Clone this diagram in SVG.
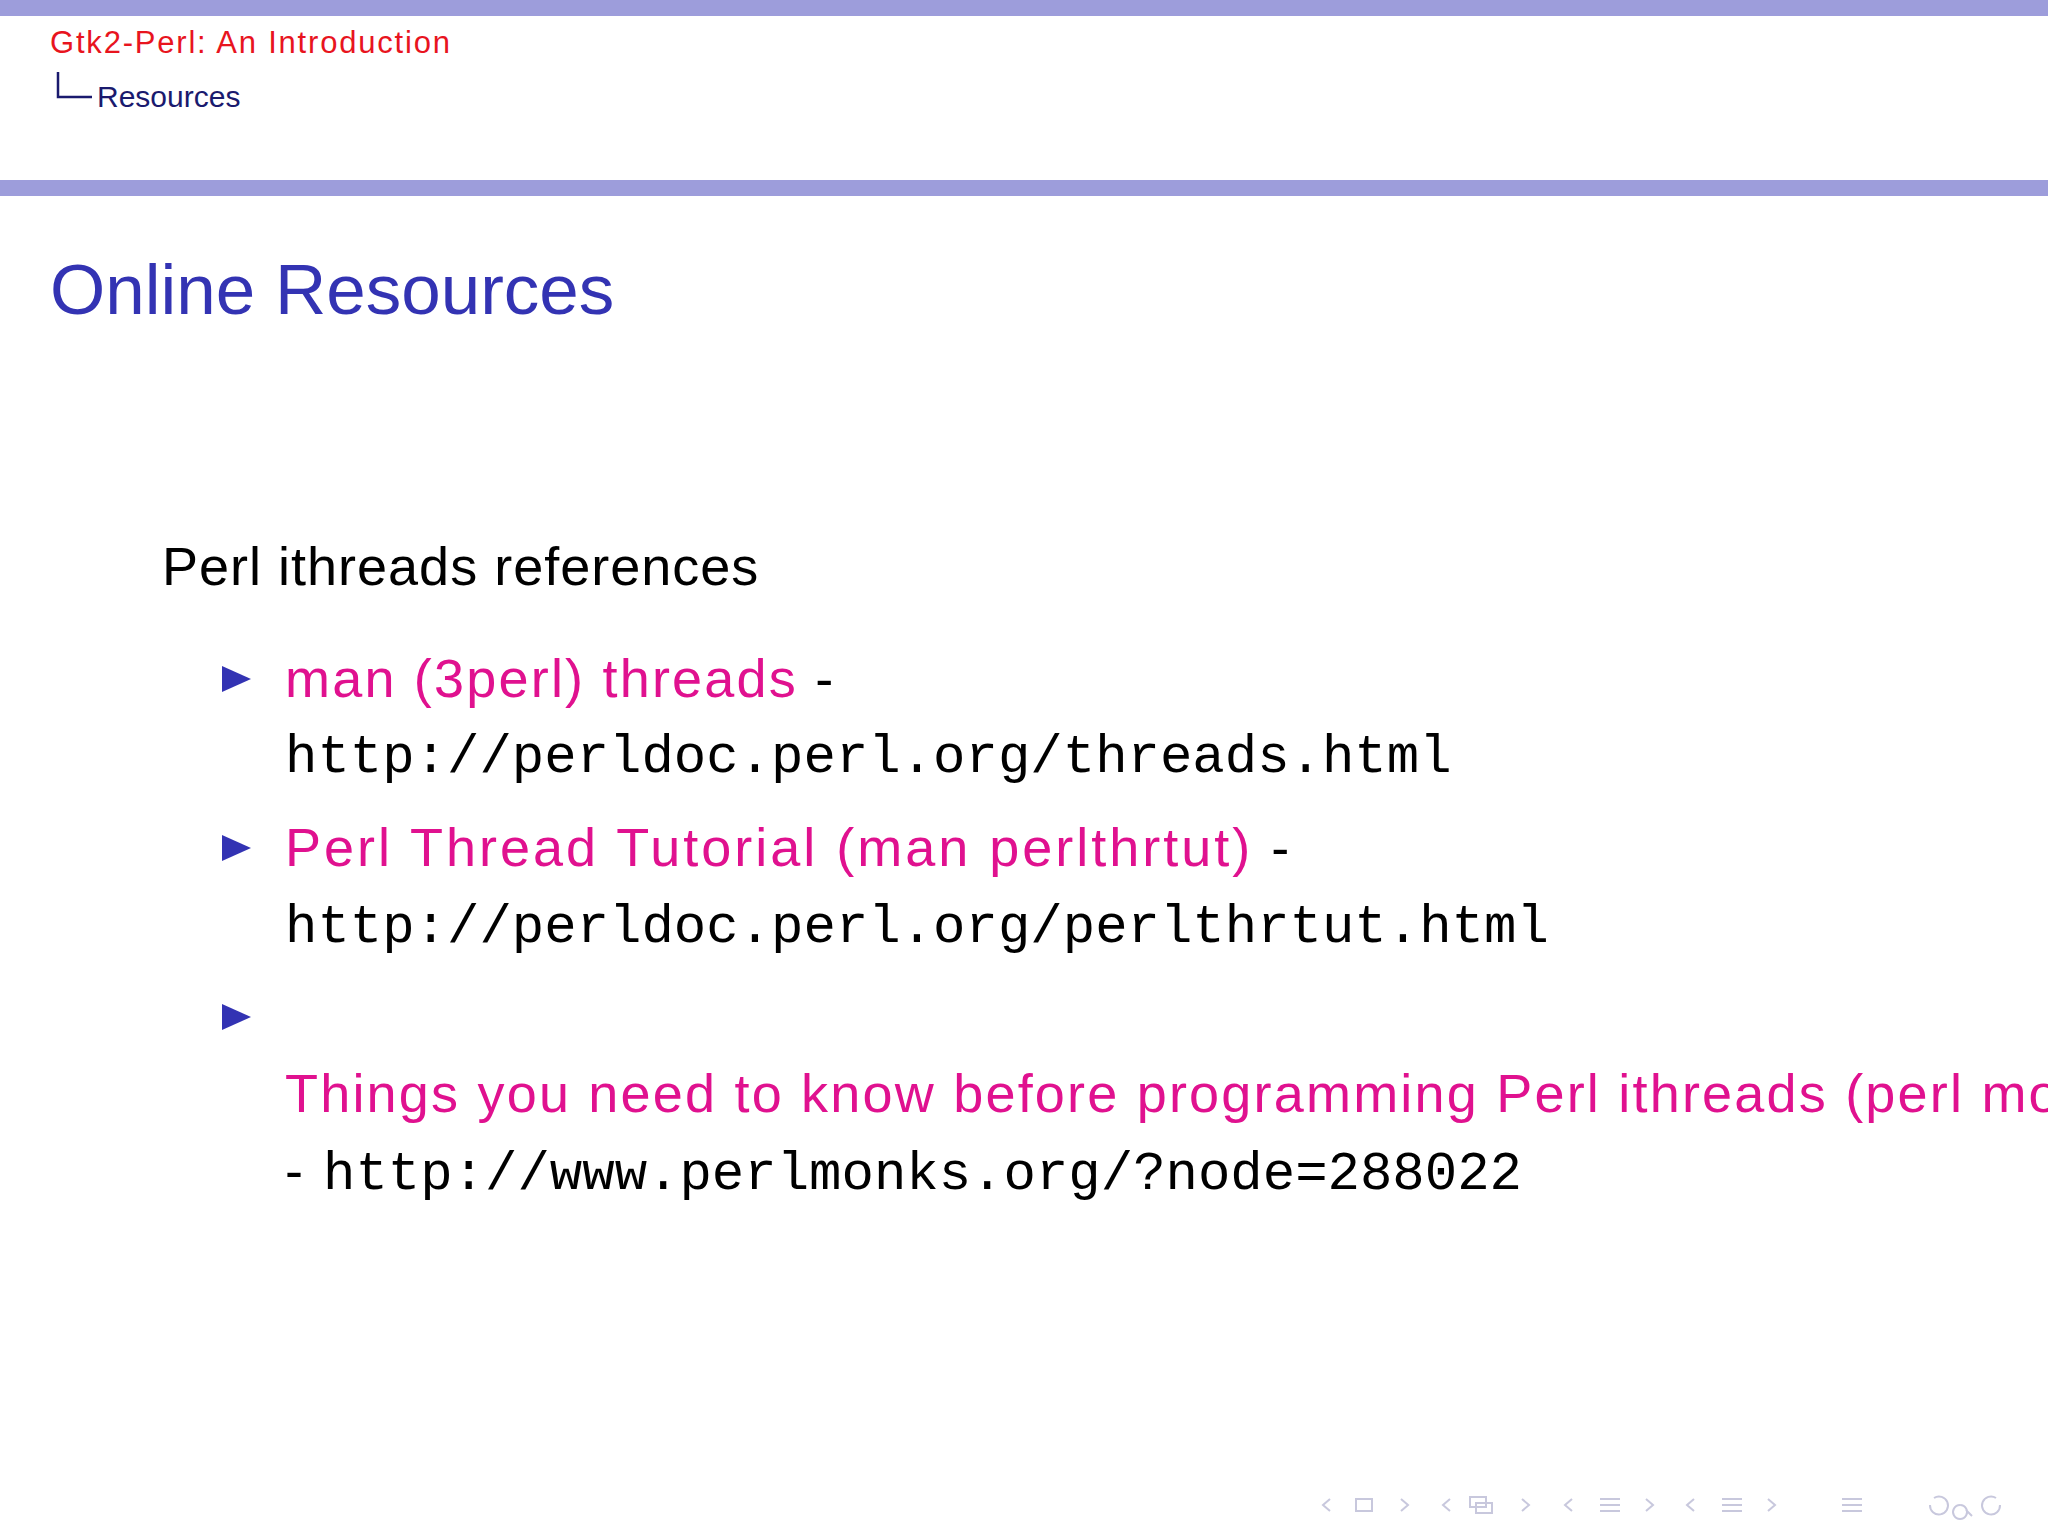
<svg xmlns="http://www.w3.org/2000/svg" width="2048" height="1536" viewBox="0 0 2048 1536">
<style>
.s{font-family:"Liberation Sans","DejaVu Sans",sans-serif}
.b{letter-spacing:2.2px}
.m{font-family:"Liberation Mono","DejaVu Sans Mono",monospace;fill:#000}
.mag{fill:#e0118f}
.tri{fill:#3333b3}
.nav{fill:none;stroke:#c8c8dd;stroke-width:2}
</style>
<rect width="2048" height="1536" fill="#fff"/>
<rect x="0" y="0" width="2048" height="16" fill="#9d9ddb"/>
<rect x="0" y="180" width="2048" height="16" fill="#9d9ddb"/>
<g id="header">
<text class="s" x="50" y="53" font-size="31" fill="#e8141e" letter-spacing="1.8">Gtk2-Perl:  An Introduction</text>
<path d="M58 72 V97 H92" fill="none" stroke="#1a1a6e" stroke-width="2.5"/>
<text class="s" x="97" y="107" font-size="30" fill="#1a1a6e">Resources</text>
</g>
<g id="title"><text class="s" x="50" y="314" font-size="71" fill="#3333b3">Online Resources</text></g>
<g id="body">
<text class="s" x="162" y="585" font-size="54" fill="#000" style="letter-spacing:1px">Perl ithreads references</text>
<path class="tri" d="M222 666 L251 679 L222 692Z"/>
<text class="s b mag" x="285" y="697" font-size="54">man (3perl) threads <tspan fill="#000">-</tspan></text>
<text class="m" x="285" y="772" font-size="54">http://perldoc.perl.org/threads.html</text>
<path class="tri" d="M222 835 L251 848 L222 861Z"/>
<text class="s mag" x="285" y="866" font-size="54" style="letter-spacing:3px">Perl Thread Tutorial (man perlthrtut) <tspan fill="#000">-</tspan></text>
<text class="m" x="285" y="942" font-size="54">http://perldoc.perl.org/perlthrtut.html</text>
<path class="tri" d="M222 1004 L251 1017 L222 1030Z"/>
<text class="s b mag" x="285" y="1112" font-size="54">Things you need to know before programming Perl ithreads (perl monks)</text>
<text class="s" x="285" y="1189" font-size="54" fill="#000">-</text>
<text class="m" x="323" y="1189" font-size="54">http://www.perlmonks.org/?node=288022</text>
</g>
<g id="nav">
<path class="nav" d="M1330 1499 l-7 6 7 6 M1356 1499 h16 v12 h-16z M1401 1499 l7 6 -7 6"/>
<path class="nav" d="M1450 1499 l-7 6 7 6 M1470 1497 h16 v10 h-16z M1476 1503 h16 v10 h-16z M1522 1499 l7 6 -7 6"/>
<path class="nav" d="M1572 1499 l-7 6 7 6 M1600 1499 h20 M1600 1505 h20 M1600 1511 h20 M1646 1499 l7 6 -7 6"/>
<path class="nav" d="M1694 1499 l-7 6 7 6 M1722 1499 h20 M1722 1505 h20 M1722 1511 h20 M1768 1499 l7 6 -7 6"/>
<path class="nav" d="M1842 1499 h20 M1842 1505 h20 M1842 1511 h20"/>
<path class="nav" d="M1930 1505 a9 9 0 1 0 4 -7 M1960 1505 a7 7 0 1 0 .1 0 M1966 1510 l6 6 M2000 1505 a9 9 0 1 1 -4 -7"/>
</g>
</svg>
